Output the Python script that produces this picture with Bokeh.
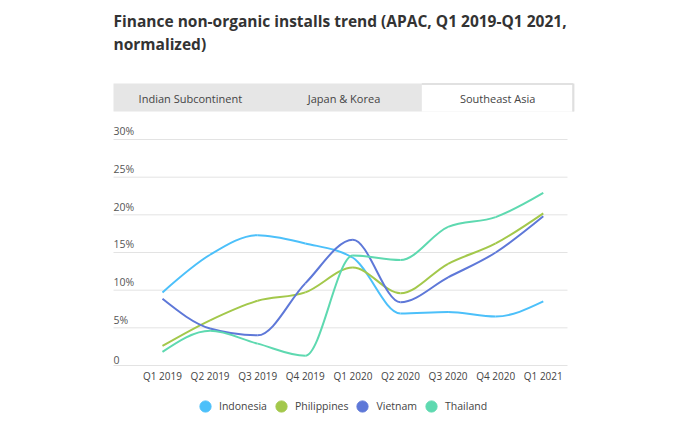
import numpy as np
from bokeh.plotting import figure
from bokeh.models import Range1d, Legend, LegendItem, ColumnDataSource
from bokeh.core.properties import value
from bokeh.embed import file_html
from bokeh.resources import INLINE

title_text = "Finance non-organic installs trend (APAC, Q1 2019-Q1 2021,\nnormalized)"
tabs = ["Indian Subcontinent", "Japan & Korea", "Southeast Asia"]
selected_tab = 2
quarters = ["Q1 2019", "Q2 2019", "Q3 2019", "Q4 2019", "Q1 2020",
            "Q2 2020", "Q3 2020", "Q4 2020", "Q1 2021"]
indonesia = [9.7, 14.7, 17.3, 16.2, 14.3, 6.9, 7.1, 6.5, 8.5]
philippines = [2.6, 6.0, 8.6, 9.7, 13.0, 9.6, 13.5, 16.2, 20.2]
vietnam = [8.85, 4.9, 4.0, 10.9, 16.7, 8.4, 11.7, 15.0, 19.8]
thailand = [1.8, 4.6, 2.9, 1.3, 14.6, 14.0, 18.4, 19.7, 22.9]
series_names = ["Indonesia", "Philippines", "Vietnam", "Thailand"]
series_values = [indonesia, philippines, vietnam, thailand]
colors = ["#4CC0FA", "#A3C84B", "#5E78D8", "#5ED9B0"]
y_ticks = [0, 5, 10, 15, 20, 25, 30]
y_labels = ["0", "5%", "10%", "15%", "20%", "25%", "30%"]

FONT = "Open Sans"

xs = np.arange(len(quarters), dtype=float)
p = figure(width=700, height=425, output_backend="svg", toolbar_location=None,
           x_range=Range1d(-3.403, 11.303), y_range=Range1d(-7.965, 48.45),
           min_border=0, outline_line_color=None)
# pixel-like helper ranges for the header, grid extents and labels
p.extra_x_ranges = {"hx": Range1d(0, 700)}
p.extra_y_ranges = {"hy": Range1d(425, 0)}
p.axis.visible = False
p.grid.visible = False

# header: title
p.text(x=[113], y=[9], text=[title_text], text_font=value(FONT),
       text_font_style="bold", text_font_size="15.5px", text_color="#333333",
       text_baseline="top", text_align="left", text_line_height=1.06,
       x_range_name="hx", y_range_name="hy")

# header: tabs
bar_left, bar_right = 113, 574
tab_w = (bar_right - bar_left) / len(tabs)
p.quad(left=[bar_left], right=[bar_right], top=[83], bottom=[111],
       fill_color="#e6e6e6", line_color=None,
       x_range_name="hx", y_range_name="hy")
sel_l = bar_left + selected_tab * tab_w
p.quad(left=[sel_l + 1], right=[bar_right - 1.5], top=[84], bottom=[111],
       fill_color="#ffffff", line_color=None,
       x_range_name="hx", y_range_name="hy")
p.multi_line(xs=[[sel_l + 1, bar_right - 1.5, bar_right - 1.5]],
             ys=[[83.5, 83.5, 111]], line_color="#dcdcdc", line_width=1.5,
             x_range_name="hx", y_range_name="hy")
tab_x = [bar_left + tab_w * (i + 0.5) for i in range(len(tabs))]
p.text(x=tab_x, y=[97.5] * len(tabs), text=tabs, text_font=value(FONT),
       text_font_size="11px", text_color="#444444",
       text_align="center", text_baseline="middle",
       x_range_name="hx", y_range_name="hy")

# grid lines and y tick labels
p.segment(x0=[113] * len(y_ticks), x1=[567] * len(y_ticks), y0=y_ticks, y1=y_ticks,
          line_color="#e3e3e3", line_width=1, x_range_name="hx")
p.text(x=[113] * len(y_ticks), y=y_ticks, text=y_labels,
       text_font=value(FONT), text_font_size="10.5px", text_color="#555555",
       text_align="left", text_baseline="bottom", y_offset=-1,
       x_range_name="hx")

# x tick labels
p.text(x=xs, y=[0] * len(quarters), text=quarters, text_font=value(FONT),
       text_font_size="10px", text_color="#444444", text_align="center",
       text_baseline="middle", y_offset=11)


def monotone_beziers(x, y):
    x = np.asarray(x, float)
    y = np.asarray(y, float)
    n = len(x)
    h = np.diff(x)
    s = np.diff(y) / h
    t = np.zeros(n)
    for i in range(1, n - 1):
        h0, h1, s0, s1 = h[i - 1], h[i], s[i - 1], s[i]
        pp = (s0 * h1 + s1 * h0) / (h0 + h1)
        t[i] = (np.sign(s0) + np.sign(s1)) * min(abs(s0), abs(s1), 0.5 * abs(pp))
    t[0] = (3 * s[0] - t[1]) / 2
    t[-1] = (3 * s[-1] - t[-2]) / 2
    x0, x1 = x[:-1], x[1:]
    y0, y1 = y[:-1], y[1:]
    return dict(x0=x0, y0=y0, x1=x1, y1=y1,
                cx0=x0 + h / 3, cy0=y0 + h * t[:-1] / 3,
                cx1=x1 - h / 3, cy1=y1 - h * t[1:] / 3)


items = []
for name, vals, col in zip(series_names, series_values, colors):
    src = ColumnDataSource(monotone_beziers(xs, vals))
    p.bezier(x0="x0", y0="y0", x1="x1", y1="y1", cx0="cx0", cy0="cy0",
             cx1="cx1", cy1="cy1", source=src, line_color=col, line_width=2)
    marker = p.scatter(x=xs, y=vals, marker="circle", size=13, fill_color=col,
                       line_color=col)
    marker.visible = False
    items.append(LegendItem(label=name, renderers=[marker], index=0))

legend = Legend(items=items, orientation="horizontal", location=(191, 2),
                glyph_width=28, glyph_height=34, label_standoff=0, spacing=0,
                label_text_font=FONT, label_text_font_size="10.5px",
                label_text_color="#444444", border_line_color=None,
                background_fill_alpha=0, padding=0, margin=0)
p.add_layout(legend, "center")

open("out.html", "w").write(file_html(p, INLINE))
